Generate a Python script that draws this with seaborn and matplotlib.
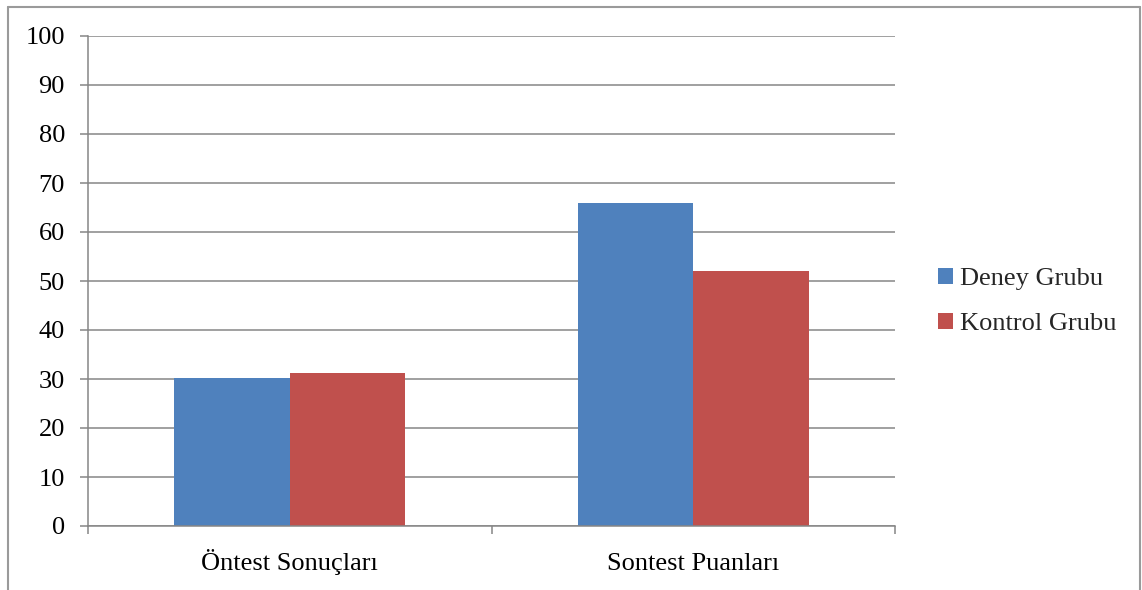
import matplotlib
matplotlib.use("Agg")
import matplotlib.pyplot as plt
import seaborn as sns
import pandas as pd
from matplotlib.lines import Line2D

categories = ["Öntest Sonuçları", "Sontest Puanları"]
series_names = ["Deney Grubu", "Kontrol Grubu"]
deney = [30.3, 66.0]
kontrol = [31.3, 52.1]
yticks = list(range(0, 101, 10))
colors = ["#4F81BD", "#C0504D"]

df = pd.DataFrame({
    "Kategori": categories * 2,
    "Grup": [series_names[0]] * 2 + [series_names[1]] * 2,
    "Deger": deney + kontrol,
})

sns.set_theme(style="white")
plt.rcParams["font.family"] = ["Liberation Serif", "DejaVu Serif"]

FS = 19
fig = plt.figure(figsize=(11.42, 5.90), dpi=100)
ax = fig.add_axes([88 / 1142, 64 / 590, (895 - 88) / 1142, (526 - 36) / 590])

sns.barplot(data=df, x="Kategori", y="Deger", hue="Grup", palette=colors,
            width=0.572, gap=0, ax=ax, legend=True, saturation=1,
            edgecolor="none", linewidth=0)

gridc = "#868686"
lw = 1.1
ax.set_ylim(0, 100)
ax.set_xlim(-0.5, 1.5)
ax.set_yticks(yticks)
ax.set_yticklabels([str(t) for t in yticks], fontsize=FS)
ax.yaxis.grid(True, color=gridc, linewidth=lw)
ax.set_axisbelow(True)
ax.set_xlabel("")
ax.set_ylabel("")

ax.set_xticks([0, 1])
ax.set_xticklabels(categories, fontsize=FS, va="baseline")
ax.tick_params(axis="x", which="major", bottom=True, length=0, pad=31.5, colors="black")
ax.set_xticks([-0.5, 0.5, 1.5], minor=True)
ax.tick_params(axis="x", which="minor", bottom=True, length=5.8, width=lw, color=gridc, direction="out")
ax.tick_params(axis="y", left=True, length=5.8, width=lw, color=gridc, direction="out", pad=10.8, labelcolor="black")

for side in ["top", "right"]:
    ax.spines[side].set_visible(False)
for side in ["left", "bottom"]:
    ax.spines[side].set_color(gridc)
    ax.spines[side].set_linewidth(lw)

handles, labels = ax.get_legend_handles_labels()
ax.legend(handles=handles, labels=labels, loc="center left",
          bbox_to_anchor=(1.0375, 0.458), frameon=False, fontsize=FS,
          handlelength=0.55, handleheight=0.55, handletextpad=0.25,
          labelspacing=0.85, title=None, borderpad=0)

# outer frame
W, H = 1142, 590
fc = "#9a9a9a"
fig.add_artist(Line2D([8 / W, 8 / W], [0, 1 - 7 / H], transform=fig.transFigure, color=fc, linewidth=1.5))
fig.add_artist(Line2D([8 / W, 1140 / W], [1 - 7 / H, 1 - 7 / H], transform=fig.transFigure, color=fc, linewidth=1.5))
fig.add_artist(Line2D([1140 / W, 1140 / W], [0, 1 - 7 / H], transform=fig.transFigure, color=fc, linewidth=1.5))

fig.savefig("out.png", dpi=100)
